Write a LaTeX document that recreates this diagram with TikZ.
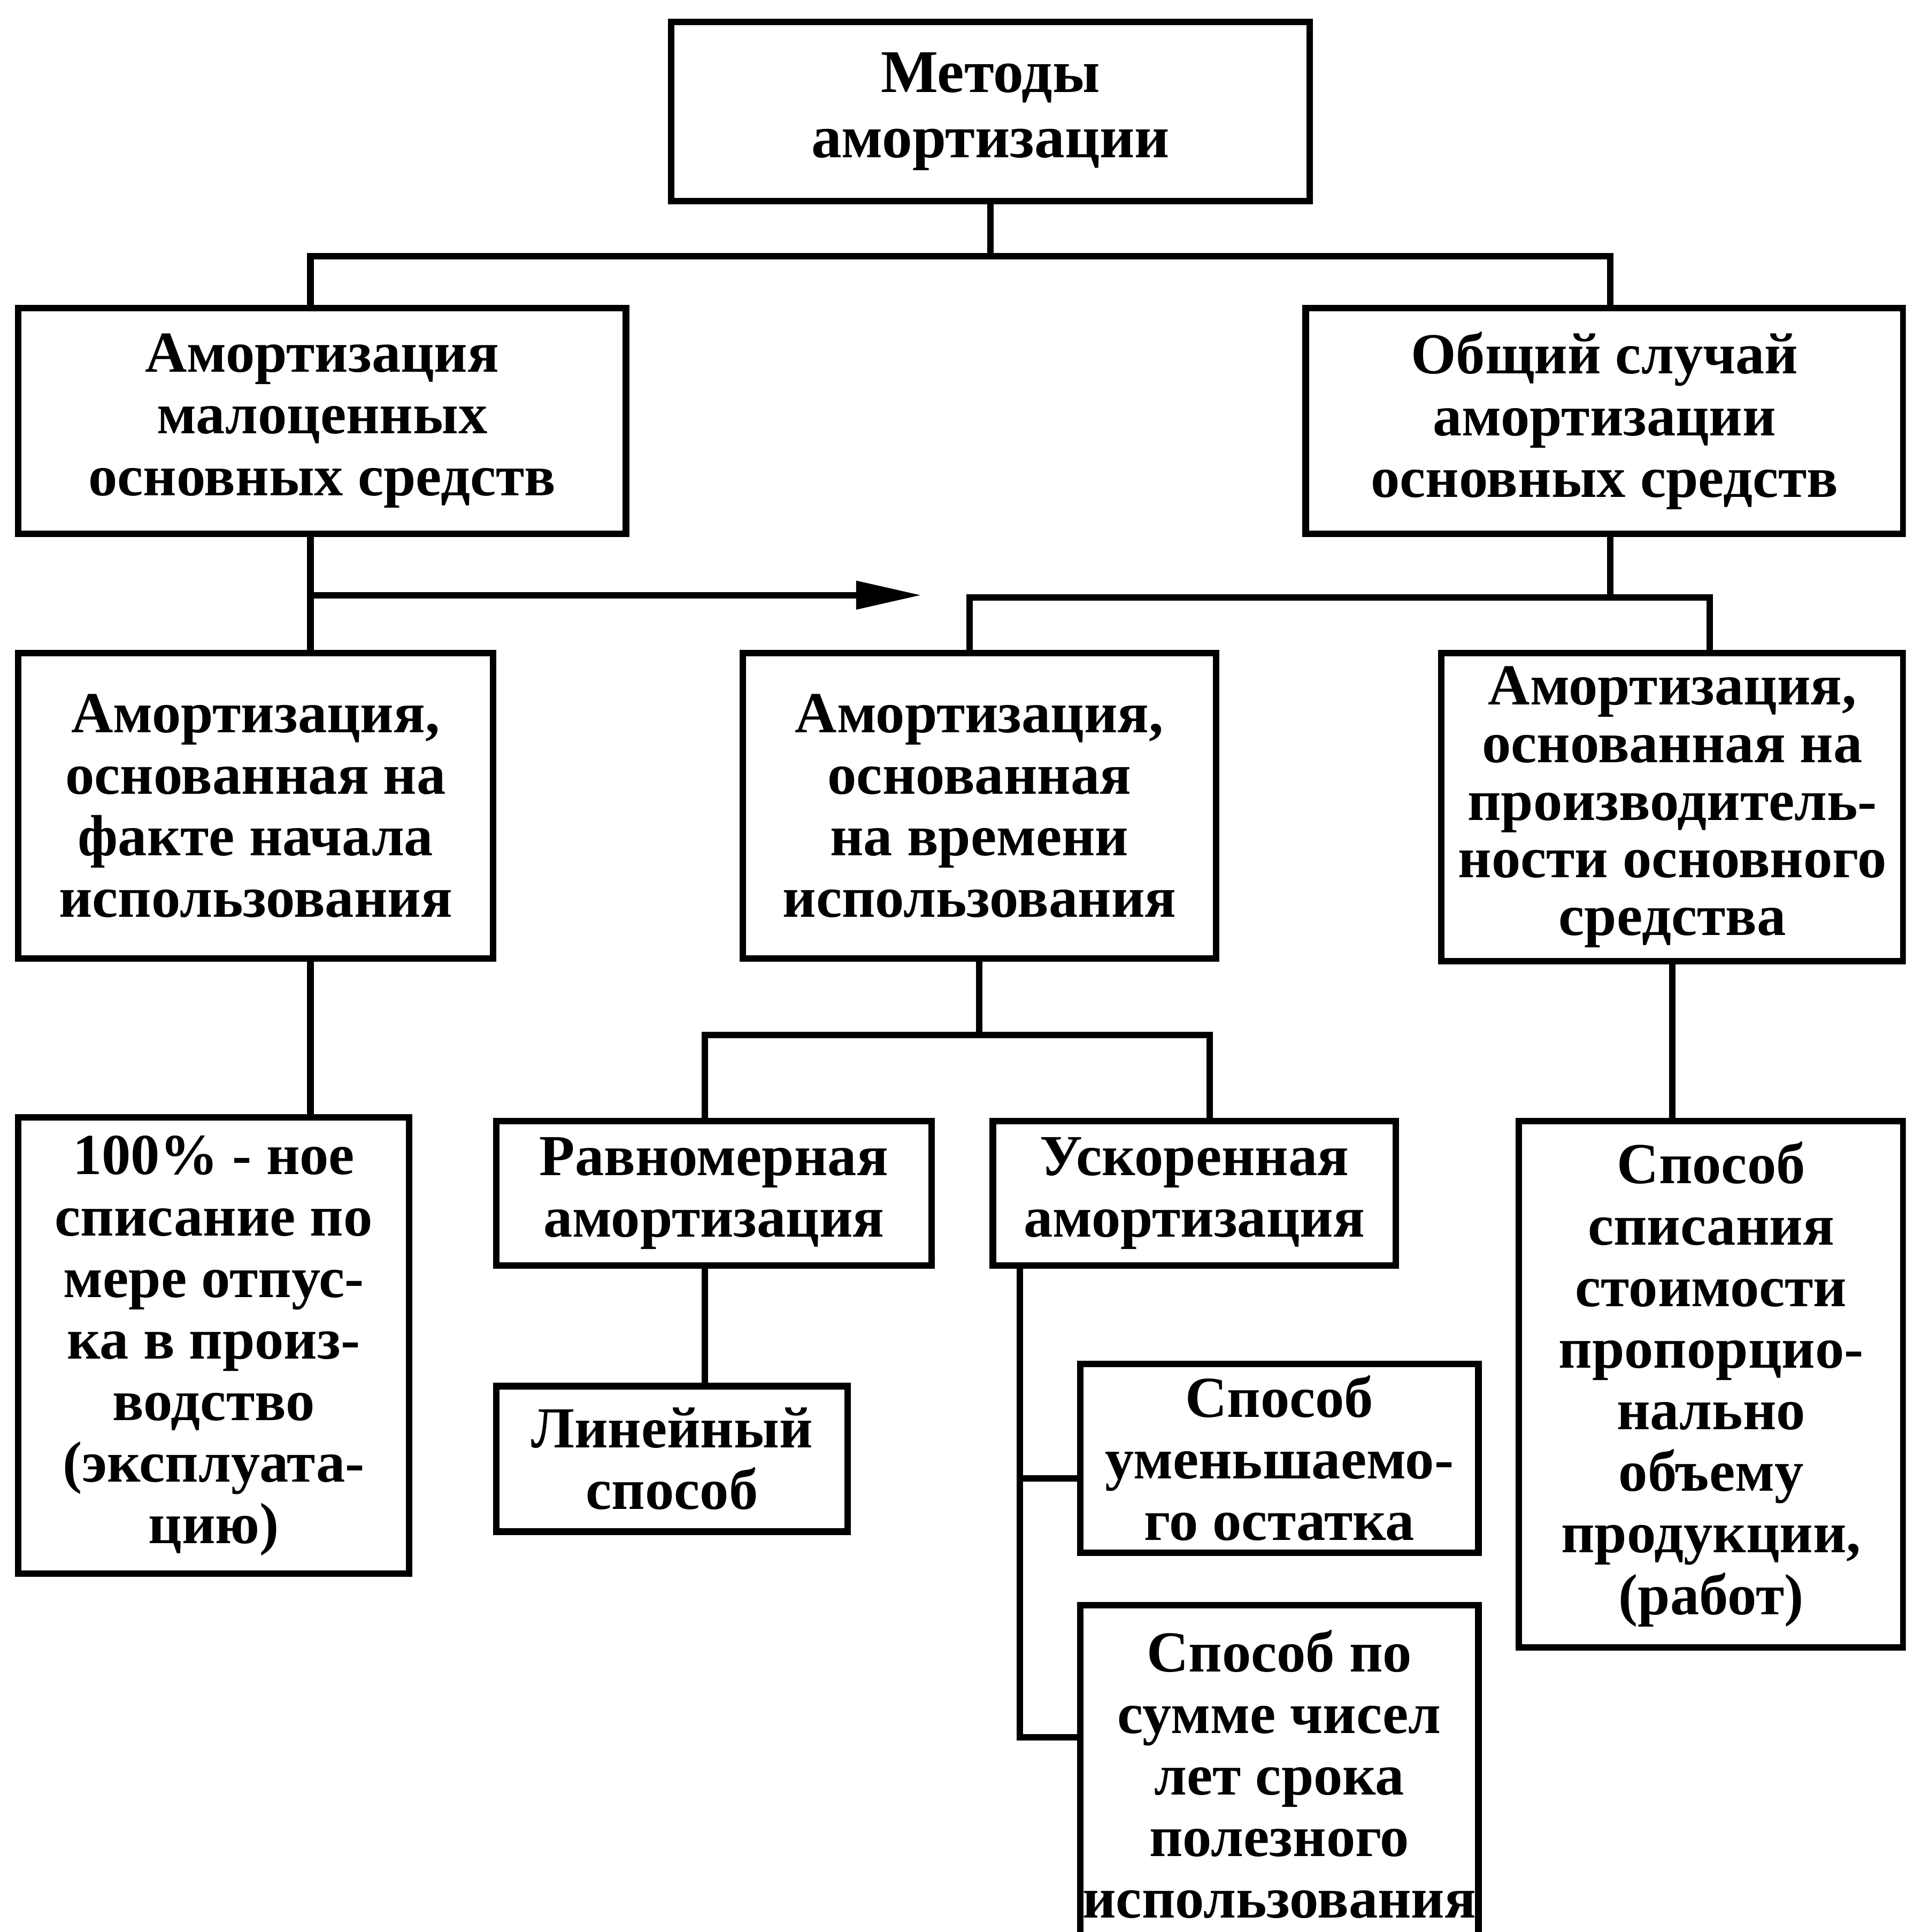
\documentclass[tikz,border=0pt]{standalone}
\usepackage{fontspec}
\setmainfont{Liberation Serif}
\usepackage{tikz}
\usetikzlibrary{arrows.meta}
\tikzset{
	blk/.style = {rectangle, draw=black, line width=1.5pt, align=center,
		inner sep=0pt, font=\bfseries\fontsize{13.4}{14.2}\selectfont},
	blk_s/.style 2 args = {blk, minimum width=#1cm, minimum height=#2cm},
	blk_t/.style = {font=\bfseries\fontsize{13.4}{13.3}\selectfont},
	lnk/.style = {line width=1.5pt}
}

\begin{document}
\begin{tikzpicture}[x=0.01cm, y=-0.01cm, lnk]
\useasboundingbox (0,0) rectangle (1547,1568);
\clip (0,0) rectangle (1547,1568);

\node [blk_s={5.18}{1.45}, font=\bfseries\fontsize{14}{15}\selectfont] (top) at (804,90.5) {Методы\\амортизации};
\node [blk_s={4.93}{1.83}] (lsmall) at (261.5,341.5) {Амортизация\\малоценных\\основных средств};
\node [blk_s={4.85}{1.83}] (gen) at (1302.5,341.5) {Общий случай\\амортизации\\основных средств};
\node [blk_s={3.85}{2.48}] (fact) at (207.5,654) {Амортизация,\\основанная на\\факте начала\\использования};
\node [blk_s={3.84}{2.48}] (time) at (795,654) {Амортизация,\\основанная\\на времени\\использования};
\node [blk_s={3.75}{2.50}, blk_t] (prod) at (1357.5,655) {Амортизация,\\основанная на\\производитель-\\ности основного\\средства};
\node [blk_s={3.17}{3.70}] (full) at (173.5,1092) {100\% - ное\\списание по\\мере отпус-\\ка в произ-\\водство\\(эксплуата-\\цию)};
\node [blk_s={3.53}{1.17}] (even) at (579.5,968.5) {Равномерная\\амортизация};
\node [blk_s={3.27}{1.17}] (fast) at (969.5,968.5) {Ускоренная\\амортизация};
\node [blk_s={2.85}{1.18}] (lin) at (545.5,1184) {Линейный\\способ};
\node [blk_s={3.23}{1.53}] (decl) at (1038.5,1183.5) {Способ\\уменьшаемо-\\го остатка};
\node [blk_s={3.23}{2.74}] (sum) at (1038.5,1440) {Способ по\\сумме чисел\\лет срока\\полезного\\использования};
\node [blk_s={3.12}{4.27}] (vol) at (1389,1123.5) {Способ\\списания\\стоимости\\пропорцио-\\нально\\объему\\продукции,\\(работ)};

% joints
\coordinate (j1) at (252,208);
\coordinate (j2) at (1307,208);
\coordinate (j3) at (787,485);
\coordinate (j4) at (1388,485);
\coordinate (j5) at (572,840);
\coordinate (j6) at (982,840);
\coordinate (j7) at (828,1200);
\coordinate (j8) at (828,1410);
\coordinate (ar) at (748,483);

\draw (top.south) -- (top.south |- j1);
\draw (j1 |- lsmall.north) -- (j1) -- (j2) -- (j2 |- gen.north);
\draw (j1 |- lsmall.south) -- (j1 |- fact.north);
\draw [-{Triangle[length=5.3mm,width=2.2mm]}] (j1 |- ar) -- (ar);
\draw (j2 |- gen.south) -- (j2 |- j3);
\draw (j3 |- time.north) -- (j3) -- (j4) -- (j4 |- prod.north);
\draw (j1 |- fact.south) -- (j1 |- full.north);
\draw (time.south) -- (time.south |- j5);
\draw (j5 |- even.north) -- (j5) -- (j6) -- (j6 |- fast.north);
\draw (j5 |- even.south) -- (j5 |- lin.north);
\draw (j7 |- fast.south) -- (j8) -- (j8 -| sum.west);
\draw (j7) -- (j7 -| decl.west);
\draw (prod.south) -- (prod.south |- vol.north);
\end{tikzpicture}
\end{document}
